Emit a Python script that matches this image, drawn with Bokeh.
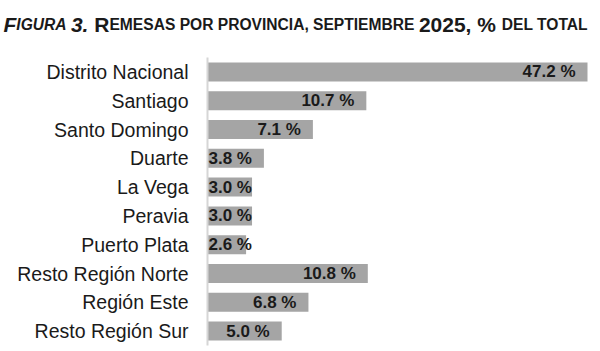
from bokeh.plotting import figure
from bokeh.models import ColumnDataSource, Range1d, Label
from bokeh.core.properties import value
from bokeh.embed import file_html
from bokeh.resources import INLINE

# ---- data ----
provinces = ["Distrito Nacional", "Santiago", "Santo Domingo", "Duarte", "La Vega",
             "Peravia", "Puerto Plata", "Resto Región Norte", "Región Este", "Resto Región Sur"]
shares = [47.2, 10.7, 7.1, 3.8, 3.0, 3.0, 2.6, 10.8, 6.8, 5.0]
labels = ["47.2 %", "10.7 %", "7.1 %", "3.8 %", "3.0 %", "3.0 %", "2.6 %", "10.8 %", "6.8 %", "5.0 %"]
title_italic = "Figura 3."
title_rest = " Remesas por provincia, septiembre 2025, % del total"

# ---- layout (pixels) ----
W, H = 600, 351
LEFT, RIGHT, TOP, BOTTOM = 207, 13, 57, 6   # plotting area inside the page
X_END = 25.6          # value axis is cut: the first bar runs past the area
FONT = "Liberation Sans"
BAR = "#a5a5a5"
INK = "#1a1a1a"

# Liberation Sans Bold advance widths (per 1000 em)
BW = {" ": 278, ",": 278, ".": 278, "%": 889,
      "A": 722, "B": 722, "C": 722, "D": 722, "E": 667, "F": 611, "G": 778, "H": 722,
      "I": 278, "J": 556, "K": 722, "L": 611, "M": 833, "N": 722, "O": 778, "P": 667,
      "Q": 778, "R": 722, "S": 667, "T": 611, "U": 722, "V": 667, "W": 944, "X": 667,
      "Y": 667, "Z": 611}
for d in "0123456789":
    BW[d] = 556


def bold_width(s, size):
    return sum(BW.get(c, 600) for c in s) * size / 1000.0


n = len(provinces)
ppu = (W - LEFT - RIGHT) / X_END           # pixels per percentage point
step = (H - TOP - BOTTOM) / n              # pixels per category row
x_lo = -LEFT / ppu
x_hi = X_END + RIGHT / ppu
y_lo = -0.5 - BOTTOM / step
y_hi = n - 0.5 + TOP / step

p = figure(width=W, height=H, x_range=Range1d(x_lo, x_hi), y_range=Range1d(y_lo, y_hi),
           output_backend="svg", toolbar_location=None,
           min_border_left=0, min_border_right=0, min_border_top=0, min_border_bottom=0)
p.xaxis.visible = False
p.yaxis.visible = False
p.grid.visible = False
p.outline_line_color = None

ypos = [n - 1 - i for i in range(n)]       # first province on top
bar_end = [min(v, X_END) for v in shares]  # bars are cut where the axis ends
src = ColumnDataSource(dict(prov=provinces, y=ypos, share=shares, end=bar_end, label=labels))
p.hbar(y="y", right="end", left=0, height=0.66, source=src,
       fill_color=BAR, line_color=None)

# category axis line and labels
p.segment(x0=[0], y0=[-0.5], x1=[0], y1=[n - 0.5], line_color="#d6d6d6", line_width=2)
p.text(x=0, y="y", text="prov", source=src, x_offset=-19, text_align="right",
       text_baseline="middle", text_font=value(FONT), text_font_size="19.5px",
       text_color=INK)

# value labels: right-aligned inside bar end; pushed to the base when they do not fit
LBL = 17
PAD = 12
rx, ry, rt, lx, ly, lt = [], [], [], [], [], []
for yy, e, t in zip(ypos, bar_end, labels):
    if e * ppu - PAD >= bold_width(t, LBL) + 1:
        rx.append(e); ry.append(yy); rt.append(t)
    else:
        lx.append(0); ly.append(yy); lt.append(t)
p.text(x=rx, y=ry, text=rt, x_offset=-PAD, text_align="right", text_baseline="middle",
       text_font=value(FONT), text_font_style="bold", text_font_size=f"{LBL}px",
       text_color=INK)
p.text(x=lx, y=ly, text=lt, x_offset=1, text_align="left", text_baseline="middle",
       text_font=value(FONT), text_font_style="bold", text_font_size=f"{LBL}px",
       text_color=INK)

# title in small caps, built from runs
BIG, SMALL = 21, 15.6
runs = []
for seg, style in ((title_italic, "bold italic"), (title_rest, "bold")):
    prev_small = False
    for c in seg:
        if c.islower():
            sm, ch = True, c.upper()
        elif c.isupper() or c.isdigit() or c == "%":
            sm, ch = False, c
        else:
            sm, ch = prev_small, c
        prev_small = sm
        if runs and runs[-1][1] == sm and runs[-1][2] == style:
            runs[-1][0] += ch
        else:
            runs.append([ch, sm, style])

tx = 3
ty = y_hi - 24 / step
for txt, sm, style in runs:
    size = SMALL if sm else BIG
    lead = len(txt) - len(txt.lstrip(" "))
    tx += bold_width(" " * lead, size)
    core = txt.strip(" ")
    if core:
        p.add_layout(Label(x=x_lo + tx / ppu, y=ty, text=core,
                           text_font=FONT, text_font_style=style, text_font_size=f"{size}px",
                           text_color=INK, text_baseline="alphabetic", text_align="left"))
    tx += bold_width(txt.lstrip(" "), size)

open("out.html", "w").write(file_html(p, INLINE))
